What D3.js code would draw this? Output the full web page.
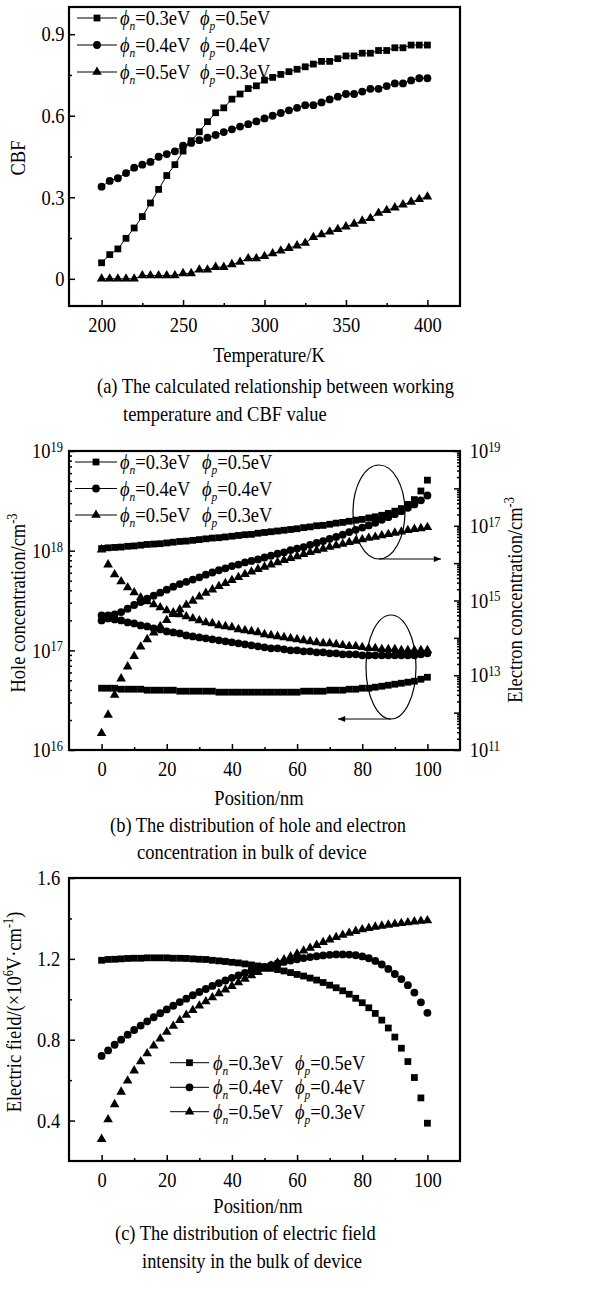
<!DOCTYPE html>
<html>
<head>
<meta charset="utf-8">
<script src="https://cdn.jsdelivr.net/npm/d3@7"></script>
<style>
body { margin: 0; background: #fff; }
text { font-family: "Liberation Serif", "Times New Roman", serif; fill: #000; }
</style>
</head>
<body>
<svg id="fig" width="599" height="1305"></svg>
<script>
// (a) CBF against working temperature, one point every 5 K
var temperature = [200,205,210,215,220,225,230,235,240,245,250,255,260,265,270,275,280,285,290,295,
	300,305,310,315,320,325,330,335,340,345,350,355,360,365,370,375,380,385,390,395,400];
var cbfN03 = [0.059,0.089,0.11,0.149,0.187,0.229,0.279,0.329,0.38,0.42,
	0.47,0.508,0.541,0.578,0.611,0.629,0.661,0.68,0.70,0.71,
	0.731,0.741,0.752,0.762,0.771,0.78,0.79,0.80,0.80,0.81,
	0.82,0.82,0.83,0.83,0.84,0.84,0.85,0.85,0.86,0.86,0.86];
var cbfN04 = [0.339,0.36,0.37,0.389,0.409,0.42,0.43,0.449,0.459,0.469,
	0.49,0.50,0.51,0.519,0.529,0.54,0.55,0.56,0.569,0.579,
	0.59,0.60,0.61,0.62,0.629,0.639,0.639,0.649,0.66,0.67,
	0.68,0.68,0.689,0.699,0.699,0.709,0.719,0.719,0.73,0.738,0.738];
var cbfN05 = [0,0,0,0,0,0.012,0.012,0.012,0.012,0.012,
	0.02,0.02,0.033,0.033,0.043,0.043,0.053,0.062,0.075,0.075,
	0.083,0.093,0.103,0.113,0.122,0.132,0.153,0.163,0.173,0.182,
	0.192,0.202,0.213,0.223,0.242,0.252,0.262,0.273,0.283,0.293,0.302];

// (b) concentrations as log10(cm^-3), one point every 2 nm
var position = [0,2,4,6,8,10,12,14,16,18,20,22,24,26,28,30,32,34,36,38,40,42,44,46,48,
	50,52,54,56,58,60,62,64,66,68,70,72,74,76,78,80,82,84,86,88,90,92,94,96,98,100];
// holes, left axis
var holeN03 = [16.62,16.62,16.62,16.61,16.61,16.61,16.61,16.60,16.60,16.60,
	16.60,16.60,16.59,16.59,16.59,16.59,16.59,16.59,16.58,16.58,
	16.58,16.58,16.58,16.58,16.58,16.58,16.58,16.58,16.58,16.58,
	16.58,16.59,16.59,16.59,16.59,16.60,16.60,16.60,16.61,16.61,
	16.62,16.62,16.63,16.64,16.65,16.66,16.67,16.68,16.69,16.71,16.73];
var holeN04 = [17.30,17.32,17.31,17.30,17.28,17.27,17.25,17.24,17.22,17.21,
	17.19,17.18,17.17,17.15,17.14,17.13,17.12,17.11,17.10,17.09,
	17.08,17.07,17.06,17.05,17.04,17.03,17.02,17.02,17.01,17.00,
	17.00,16.99,16.99,16.98,16.98,16.97,16.97,16.96,16.96,16.96,
	16.95,16.95,16.95,16.95,16.95,16.95,16.95,16.95,16.95,16.96,16.97];
var holeN05 = [18.01,17.86,17.76,17.69,17.63,17.58,17.53,17.49,17.46,17.43,
	17.40,17.38,17.36,17.34,17.32,17.30,17.28,17.27,17.25,17.24,
	17.23,17.21,17.20,17.19,17.18,17.16,17.15,17.14,17.13,17.12,
	17.11,17.10,17.09,17.08,17.07,17.07,17.06,17.05,17.04,17.04,
	17.03,17.02,17.02,17.01,17.01,17.01,17.00,17.00,17.00,17.00,17.00];
// electrons, right axis
var elecN03 = [16.39,16.41,16.42,16.43,16.45,16.46,16.48,16.50,16.51,16.52,
	16.54,16.56,16.58,16.59,16.61,16.63,16.65,16.67,16.68,16.70,
	16.72,16.74,16.76,16.77,16.80,16.82,16.84,16.86,16.88,16.90,
	16.92,16.95,16.97,17.00,17.01,17.04,17.07,17.09,17.12,17.15,
	17.17,17.21,17.24,17.28,17.33,17.39,17.46,17.57,17.70,17.93,18.22];
var elecN04 = [14.60,14.60,14.63,14.69,14.78,14.88,14.96,15.05,15.13,15.21,
	15.29,15.37,15.44,15.50,15.56,15.62,15.69,15.75,15.81,15.86,
	15.92,15.96,16.02,16.06,16.10,16.15,16.20,16.25,16.29,16.35,
	16.39,16.43,16.49,16.54,16.59,16.65,16.70,16.76,16.83,16.89,
	16.95,17.01,17.08,17.16,17.23,17.31,17.39,17.48,17.57,17.68,17.81];
var elecN05 = [11.45,11.94,12.47,12.91,13.23,13.51,13.76,13.96,14.14,14.31,
	14.47,14.63,14.76,14.88,14.99,15.10,15.20,15.29,15.38,15.46,
	15.54,15.62,15.70,15.77,15.84,15.90,15.96,16.02,16.08,16.13,
	16.18,16.24,16.29,16.34,16.38,16.43,16.47,16.51,16.56,16.59,
	16.63,16.67,16.70,16.74,16.77,16.81,16.84,16.88,16.91,16.93,16.96];

// (c) electric field, 10^6 V/cm
var fieldN03 = [1.193,1.197,1.198,1.200,1.202,1.203,1.203,1.205,1.205,1.205,
	1.205,1.203,1.203,1.202,1.200,1.198,1.197,1.193,1.190,1.187,
	1.183,1.180,1.175,1.170,1.165,1.160,1.153,1.147,1.140,1.132,
	1.123,1.115,1.105,1.095,1.083,1.070,1.057,1.042,1.025,1.005,
	0.983,0.958,0.930,0.897,0.858,0.813,0.758,0.692,0.613,0.512,0.387];
var fieldN04 = [0.720,0.747,0.775,0.800,0.825,0.848,0.870,0.891,0.911,0.931,
	0.950,0.968,0.986,1.003,1.020,1.036,1.051,1.066,1.080,1.093,
	1.106,1.118,1.130,1.141,1.151,1.160,1.169,1.177,1.185,1.192,
	1.198,1.204,1.209,1.213,1.217,1.220,1.222,1.222,1.221,1.218,
	1.212,1.203,1.190,1.172,1.150,1.125,1.100,1.070,1.033,0.985,0.933];
var fieldN05 = [0.308,0.405,0.480,0.542,0.597,0.647,0.692,0.732,0.770,0.805,
	0.838,0.868,0.896,0.922,0.946,0.968,0.989,1.009,1.029,1.047,
	1.065,1.083,1.101,1.118,1.134,1.150,1.166,1.181,1.196,1.211,
	1.225,1.240,1.254,1.268,1.282,1.295,1.307,1.318,1.328,1.337,
	1.345,1.352,1.358,1.363,1.368,1.372,1.376,1.380,1.384,1.387,1.390];

var phiN = ['0.3','0.4','0.5'];
var phiP = ['0.5','0.4','0.3'];

var ticksTemp = [200,250,300,350,400], minorTemp = [225,275,325,375];
var ticksCbf = [0,0.3,0.6,0.9], minorCbf = [0.15,0.45,0.75];
var ticksPos = [0,20,40,60,80,100], minorPos = [10,30,50,70,90];
var ticksField = [0.4,0.8,1.2,1.6], minorField = [0.6,1.0,1.4];
var holeDecades = [16,17,18,19];
var elecDecades = [11,12,13,14,15,16,17,18,19];

var SX = 0.88, FS = 21;
var svg = d3.select('#fig');
var shapes = [d3.symbolSquare, d3.symbolCircle, d3.symbolTriangle];
var shapeSize = [46, 48, 40];

svg.append('defs').append('marker')
	.attr('id', 'arr').attr('viewBox', '0 0 10 10')
	.attr('refX', 10).attr('refY', 5)
	.attr('markerWidth', 9).attr('markerHeight', 6)
	.attr('orient', 'auto')
	.append('path').attr('d', 'M0,1L10,5L0,9Z').attr('fill', '#000');

function txt(g, x, y, s, anchor, rot) {
	return g.append('text')
		.attr('transform', 'translate(' + x + ',' + y + ')' + (rot ? ' rotate(' + rot + ')' : '') + ' scale(' + SX + ',1)')
		.attr('text-anchor', anchor || 'start')
		.attr('font-size', FS)
		.text(s);
}

function sup(t, s, back) {
	t.append('tspan').attr('dy', -8).attr('font-size', 14).text(s);
	if (back) t.append('tspan').attr('dy', 8).text(back);
}

function frame(x0, y0, x1, y1) {
	svg.append('rect').attr('x', x0).attr('y', y0)
		.attr('width', x1 - x0).attr('height', y1 - y0)
		.attr('fill', 'none').attr('stroke', '#000').attr('stroke-width', 2.2);
}

function tidy(ax) {
	ax.select('.domain').remove();
	ax.attr('font-family', null).attr('font-size', FS);
	ax.selectAll('line').attr('stroke-width', 1.5);
	ax.selectAll('text').attr('transform', 'scale(' + SX + ',1)');
}

function xAxis(scale, y, major, minor) {
	var m = svg.append('g').attr('transform', 'translate(0,' + y + ')')
		.call(d3.axisBottom(scale).tickValues(minor).tickSize(-3).tickFormat(''));
	tidy(m);
	var a = svg.append('g').attr('transform', 'translate(0,' + y + ')')
		.call(d3.axisBottom(scale).tickValues(major).tickSize(-6).tickPadding(11));
	tidy(a);
}

function yAxis(scale, x, major, minor, fmt, pad) {
	var m = svg.append('g').attr('transform', 'translate(' + x + ',0)')
		.call(d3.axisLeft(scale).tickValues(minor).tickSize(-3).tickFormat(''));
	tidy(m);
	var a = svg.append('g').attr('transform', 'translate(' + x + ',0)')
		.call(d3.axisLeft(scale).tickValues(major).tickSize(-6).tickPadding(pad).tickFormat(fmt));
	tidy(a);
}

function logAxis(scale, x, decades, right, labelled) {
	var minor = [];
	decades.slice(0, -1).forEach(function (k) {
		for (var m = 2; m < 10; m++) minor.push(m * Math.pow(10, k));
	});
	var major = decades.map(function (k) { return Math.pow(10, k); });
	var axisFn = right ? d3.axisRight : d3.axisLeft;
	var m = svg.append('g').attr('transform', 'translate(' + x + ',0)')
		.call(axisFn(scale).tickValues(minor).tickSize(-3).tickFormat(''));
	tidy(m);
	var a = svg.append('g').attr('transform', 'translate(' + x + ',0)')
		.call(axisFn(scale).tickValues(major).tickSize(-6).tickPadding(right ? 11 : 7).tickFormat(''));
	tidy(a);
	a.selectAll('.tick text').each(function (d) {
		var k = Math.round(Math.log10(d));
		if (labelled.indexOf(k) < 0) return;
		var t = d3.select(this);
		t.append('tspan').text('10');
		t.append('tspan').attr('dy', '-0.45em').attr('font-size', 14).text(k);
	});
}

function series(xs, ys, sx, sy, k, line) {
	var pts = xs.map(function (d, i) { return [sx(d), sy(ys[i])]; });
	if (line) {
		svg.append('path').attr('d', d3.line()(pts))
			.attr('fill', 'none').attr('stroke', '#000').attr('stroke-width', 1);
	}
	svg.append('g').selectAll('path').data(pts).enter().append('path')
		.attr('transform', function (p) { return 'translate(' + p[0] + ',' + p[1] + ')'; })
		.attr('d', d3.symbol().type(shapes[k]).size(shapeSize[k]));
}

function legend(x0, x1, tx, tx2, ys) {
	ys.forEach(function (y, k) {
		svg.append('line').attr('x1', x0).attr('x2', x1).attr('y1', y).attr('y2', y)
			.attr('stroke', '#000').attr('stroke-width', 1);
		svg.append('path').attr('transform', 'translate(' + ((x0 + x1) / 2) + ',' + y + ')')
			.attr('d', d3.symbol().type(shapes[k]).size(shapeSize[k]));
		var t = txt(svg, tx, y + 7, '');
		t.append('tspan').attr('font-style', 'italic').text('\u03d5');
		t.append('tspan').attr('font-style', 'italic').attr('font-size', 13).attr('dy', 5).text('n');
		t.append('tspan').attr('dy', -5).text('=' + phiN[k] + 'eV');
		var t2 = txt(svg, tx2, y + 7, '');
		t2.append('tspan').attr('font-style', 'italic').text('\u03d5');
		t2.append('tspan').attr('font-style', 'italic').attr('font-size', 13).attr('dy', 5).text('p');
		t2.append('tspan').attr('dy', -5).text('=' + phiP[k] + 'eV');
	});
}

var L = 69, R = 460;

// ---------- (a)
var xa = d3.scaleLinear().domain([180, 420]).range([L, R]);
var ya = d3.scaleLinear().domain([-0.1, 1.0]).range([306, 7]);
frame(L, 7, R, 306);
xAxis(xa, 306, ticksTemp, minorTemp);
yAxis(ya, L, ticksCbf, minorCbf, function (d) { return d === 0 ? '0' : d3.format('.1f')(d); }, 5);
[cbfN03, cbfN04, cbfN05].forEach(function (s, k) { series(temperature, s, xa, ya, k, true); });
legend(77, 117, 120, 200, [18, 45, 72]);
txt(svg, 25, 158, 'CBF', 'middle', -90);
txt(svg, 269, 362, 'Temperature/K', 'middle');
txt(svg, 97, 393, '(a) The calculated relationship between working');
txt(svg, 123, 421, 'temperature and CBF value');

// ---------- (b)
var xb = d3.scaleLinear().domain([-10, 110]).range([L, R]);
var ybL = d3.scaleLog().domain([1e16, 1e19]).range([750, 451]);
var ybR = d3.scaleLog().domain([1e11, 1e19]).range([750, 451]);
function pow10(a) { return a.map(function (v) { return Math.pow(10, v); }); }
frame(L, 451, R, 750);
xAxis(xb, 750, ticksPos, minorPos);
logAxis(ybL, L, holeDecades, false, holeDecades);
logAxis(ybR, R, elecDecades, true, [11, 13, 15, 17, 19]);
[holeN03, holeN04, holeN05].forEach(function (s, k) { series(position, pow10(s), xb, ybL, k, false); });
[elecN03, elecN04, elecN05].forEach(function (s, k) { series(position, pow10(s), xb, ybR, k, false); });
legend(75, 117, 120, 202, [462, 488.5, 515]);

svg.append('ellipse').attr('cx', 379).attr('cy', 512).attr('rx', 26).attr('ry', 47)
	.attr('fill', 'none').attr('stroke', '#000').attr('stroke-width', 1.2);
svg.append('line').attr('x1', 379).attr('y1', 559).attr('x2', 441).attr('y2', 559)
	.attr('stroke', '#000').attr('stroke-width', 1.2).attr('marker-end', 'url(#arr)');
svg.append('ellipse').attr('cx', 391).attr('cy', 667).attr('rx', 25).attr('ry', 52)
	.attr('fill', 'none').attr('stroke', '#000').attr('stroke-width', 1.2);
svg.append('line').attr('x1', 391).attr('y1', 719).attr('x2', 338).attr('y2', 719)
	.attr('stroke', '#000').attr('stroke-width', 1.2).attr('marker-end', 'url(#arr)');

var th = txt(svg, 25, 603, 'Hole concentration/cm', 'middle', -90);
sup(th, '-3');
var te = txt(svg, 522, 600, 'Electron concentration/cm', 'middle', -90);
sup(te, '-3');
txt(svg, 259, 805, 'Position/nm', 'middle');
txt(svg, 110, 832, '(b) The distribution of hole and electron');
txt(svg, 137, 859, 'concentration in bulk of device');

// ---------- (c)
var xc = d3.scaleLinear().domain([-10, 110]).range([L, R]);
var yc = d3.scaleLinear().domain([0.2, 1.6]).range([1161, 878]);
frame(L, 878, R, 1161);
xAxis(xc, 1161, ticksPos, minorPos);
yAxis(yc, L, ticksField, minorField, d3.format('.1f'), 10);
[fieldN03, fieldN04, fieldN05].forEach(function (s, k) { series(position, s, xc, yc, k, false); });
legend(170, 209, 213, 295, [1062.7, 1087.3, 1111.7]);

var tf = txt(svg, 21, 1012, 'Electric field/(\u00d710', 'middle', -90);
sup(tf, '6', 'V\u00b7cm');
sup(tf, '-1', ')');
txt(svg, 258, 1213, 'Position/nm', 'middle');
txt(svg, 115, 1240, '(c) The distribution of electric field');
txt(svg, 142, 1268, 'intensity in the bulk of device');
</script>
</body>
</html>
